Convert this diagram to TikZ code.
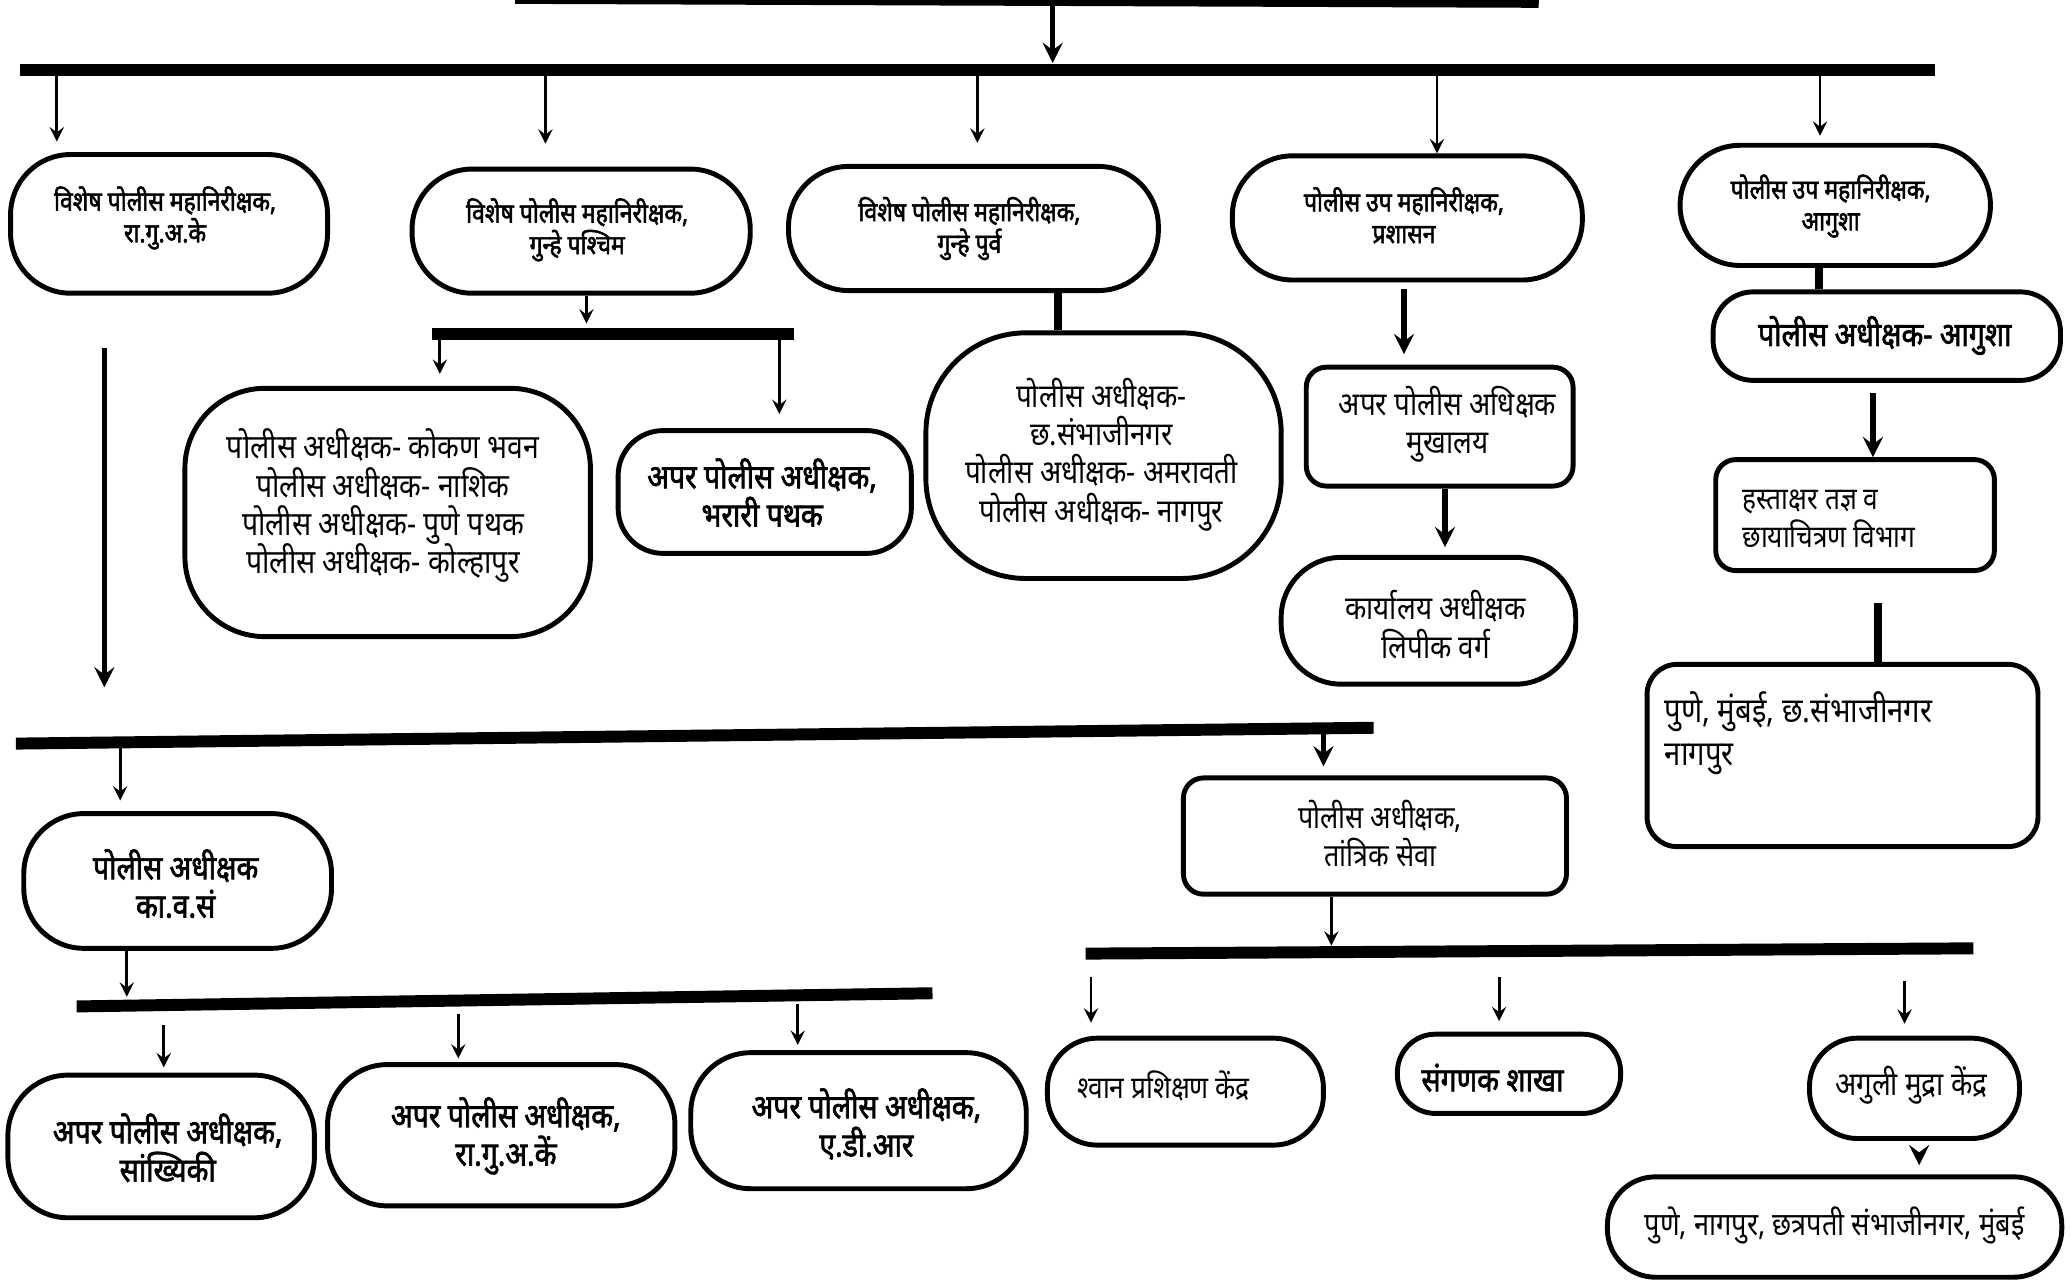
\documentclass[tikz,border=0pt]{standalone}
\usepackage{fontspec}
\newfontfamily\deva[Script=Devanagari,FakeStretch=0.85]{Noto Sans}
\newfontfamily\devab[Script=Devanagari,FakeStretch=0.85,FakeBold=2]{Noto Sans}
\usetikzlibrary{arrows,fit}
\tikzstyle{pill} = [rectangle, draw, line width=1.4pt, rounded corners=6mm, inner sep=0pt]
\tikzstyle{card} = [rectangle, draw, line width=1.4pt, rounded corners=2mm, inner sep=0pt]
\tikzstyle{head} = [align=center, font=\devab\fontsize{7.7}{9}\selectfont]
\tikzstyle{body} = [align=center, font=\deva\fontsize{9.3}{10.9}\selectfont]
\tikzstyle{bodyb} = [align=center, font=\devab\fontsize{9.5}{10.9}\selectfont]
\tikzstyle{bar} = [line width=3.4pt]
\tikzstyle{link} = [line width=2.2pt]
\tikzstyle{arrow} = [thick,->,>=stealth]
\tikzstyle{bigarrow} = [line width=1.5pt,->,>=stealth]

\begin{document}
\lineskiplimit=-20pt
\begin{tikzpicture}[x=0.13208mm, y=-0.13208mm]
            \useasboundingbox (0,0) rectangle (1568,969);

            \node (rgak)   [pill, fit={(8,117) (248,222)}] {};
            \node (gwest)  [pill, fit={(312,128) (568,222)}] {};
            \node (geast)  [pill, fit={(597,126) (877,220)}] {};
            \node (admin)  [pill, fit={(933,118) (1198,212)}] {};
            \node (agusha) [pill, fit={(1272,110) (1507,201)}] {};
            \node (rgak-t)   [head] at (125,165) {विशेष पोलीस महानिरीक्षक,\\रा.गु.अ.के};
            \node (gwest-t)  [head] at (437,174) {विशेष पोलीस महानिरीक्षक,\\गुन्हे पश्चिम};
            \node (geast-t)  [head] at (734,173) {विशेष पोलीस महानिरीक्षक,\\गुन्हे पुर्व};
            \node (admin-t)  [head] at (1063,163) {पोलीस उप महानिरीक्षक,\\प्रशासन};
            \node (agusha-t) [head] at (1386,156) {पोलीस उप महानिरीक्षक,\\आगुशा};

            \node (spwest)  [pill, rounded corners=8mm, fit={(140,294) (447,482)}] {};
            \node (bharari) [pill, rounded corners=4.5mm, fit={(468,326) (690,419)}] {};
            \node (speast)  [pill, rounded corners=10mm, fit={(701,252) (970,438)}] {};
            \node (hq)      [card, fit={(989,278) (1191,368)}] {};
            \node (office)  [pill, fit={(970,422) (1193,518)}] {};
            \node (spag)    [pill, rounded corners=4mm, fit={(1297,221) (1560,288)}] {};
            \node (hasta)   [card, fit={(1299,348) (1510,432)}] {};
            \node (hcity)   [card, rounded corners=3mm, fit={(1247,503) (1543,641)}] {};
            \node (spwest-t)  [body, font=\deva\fontsize{9.5}{10.9}\selectfont] at (290,383) {पोलीस अधीक्षक- कोकण भवन\\पोलीस अधीक्षक- नाशिक\\पोलीस अधीक्षक- पुणे पथक\\पोलीस अधीक्षक- कोल्हापुर};
            \node (bharari-t) [bodyb] at (577,373) {अपर पोलीस अधीक्षक,\\भरारी पथक};
            \node (speast-t)  [body] at (834,344) {पोलीस अधीक्षक-\\छ.संभाजीनगर\\पोलीस अधीक्षक- अमरावती\\पोलीस अधीक्षक- नागपुर};
            \node (hq-t)      [body] at (1096,321) {अपर पोलीस अधिक्षक\\मुखालय};
            \node (office-t)  [body] at (1087,473) {कार्यालय अधीक्षक\\लिपीक वर्ग};
            \node (spag-t)    [bodyb] at (1427,254) {पोलीस अधीक्षक- आगुशा};
            \node (hasta-t)   [body, align=left, anchor=west, font=\deva\fontsize{8.8}{10.9}\selectfont] at (1310,393) {हस्ताक्षर तज्ञ व\\छायाचित्रण विभाग};
            \node (hcity-t)   [body, align=left, anchor=west, font=\deva\fontsize{9.8}{12.4}\selectfont] at (1251,555) {पुणे, मुंबई, छ.संभाजीनगर\\नागपुर};

            \node (kvs)     [pill, fit={(18,616) (251,718)}] {};
            \node (tantrik) [card, fit={(896,589) (1186,677)}] {};
            \node (stats)   [pill, fit={(6,814) (238,922)}] {};
            \node (rgakc)   [pill, fit={(248,806) (511,913)}] {};
            \node (adr)     [pill, fit={(523,797) (777,900)}] {};
            \node (dog)     [pill, rounded corners=5mm, fit={(793,786) (1002,867)}] {};
            \node (comp)    [pill, rounded corners=3.8mm, fit={(1058,783) (1227,843)}] {};
            \node (finger)  [pill, rounded corners=4.8mm, fit={(1370,786) (1529,862)}] {};
            \node (fcity)   [pill, rounded corners=4.8mm, fit={(1217,891) (1561,967)}] {};
            \node (kvs-t)     [bodyb] at (133,669) {पोलीस अधीक्षक\\का.व.सं};
            \node (tantrik-t) [body, font=\deva\fontsize{9}{10.9}\selectfont] at (1045,631) {पोलीस अधीक्षक,\\तांत्रिक सेवा};
            \node (stats-t)   [bodyb] at (127,869) {अपर पोलीस अधीक्षक,\\सांख्यिकी};
            \node (rgakc-t)   [bodyb] at (383,860) {अपर पोलीस अधीक्षक,\\रा.गु.अ.कें};
            \node (adr-t)     [bodyb] at (656,851) {अपर पोलीस अधीक्षक,\\ए.डी.आर};
            \node (dog-t)     [body, font=\deva\fontsize{8.8}{10.9}\selectfont] at (881,822) {श्वान प्रशिक्षण केंद्र};
            \node (comp-t)    [bodyb] at (1130,816) {संगणक शाखा};
            \node (finger-t)  [body] at (1447,822) {अगुली मुद्रा केंद्र};
            \node (fcity-t)   [body, font=\deva\fontsize{9.1}{10.9}\selectfont] at (1389,928) {पुणे, नागपुर, छत्रपती संभाजीनगर, मुंबई};

            \coordinate (chief) at (797,2);
            \coordinate (bar1l) at (15,53);
            \coordinate (bar1r) at (1465,53);
            \coordinate (bar2l) at (12,563);
            \coordinate (bar2r) at (1040,551);

            \draw [link] (390,0) -- (1165,3);
            \draw [bigarrow, shorten >=2pt] (chief) -- (chief |- bar1l);
            \draw [bar] (bar1l) -- (bar1r);
            \foreach \x/\n/\g in {43/rgak/3, 413/gwest/6.5, 740/geast/6, 1088/admin/0, 1378/agusha/2}
                \draw [arrow, shorten <=1.5pt, shorten >=\g pt] (\x,53) -- (\x,0 |- \n.north);

            \draw [arrow, shorten >=1.5pt] (gwest.south -| 444,0) -- (444,249);
            \draw [bar] (327,253) -- (601,253);
            \draw [arrow, shorten <=1.5pt, shorten >=3.4pt] (333,253) -- (333,0 |- spwest.north);
            \draw [arrow, shorten <=1.5pt, shorten >=4pt] (590,253) -- (590,0 |- bharari.north);

            \draw [link] (geast.south -| 801,0) -- (801,0 |- speast.north);
            \draw [bigarrow, shorten <=2pt, shorten >=3pt] (admin.south -| 1063,0) -- (1063,0 |- hq.north);
            \draw [bigarrow, shorten >=2.2pt] (hq.south -| 1094,0) -- (1094,0 |- office.north);
            \draw [link] (agusha.south -| 1377,0) -- (1377,0 |- spag.north);
            \draw [bigarrow, shorten <=3pt] (spag.south -| 1418,0) -- (1418,0 |- hasta.north);
            \draw [link, shorten <=8.6pt] (hasta.south -| 1422,0) -- (1422,0 |- hcity.north);

            \draw [bigarrow, shorten <=15pt, shorten >=16pt] (rgak.south -| 79,0) -- (79,0 |- bar2l);
            \draw [bar] (bar2l) -- (bar2r);
            \draw [arrow, shorten <=1.5pt, shorten >=3pt] (91,562) -- (91,0 |- kvs.north);
            \draw [bigarrow, shorten <=1.5pt, shorten >=2.6pt] (1002,552) -- (1002,0 |- tantrik.north);

            \draw [arrow, shorten >=2pt] (kvs.south -| 96,0) -- (96,760);
            \draw [bar] (58,762) -- (706,752);
            \draw [arrow, shorten >=1.5pt] (124,776) -- (124,0 |- stats.north);
            \draw [arrow, shorten >=1pt] (347,768) -- (347,0 |- rgakc.north);
            \draw [arrow, shorten >=1.5pt] (604,760) -- (604,0 |- adr.north);

            \draw [arrow, shorten >=1.5pt] (tantrik.south -| 1008,0) -- (1008,720);
            \draw [bar] (822,722) -- (1494,718);
            \draw [arrow, shorten >=3.7pt] (826,740) -- (826,0 |- dog.north);
            \draw [arrow, shorten >=3pt] (1135,740) -- (1135,0 |- comp.north);
            \draw [arrow, shorten >=3.4pt] (1442,743) -- (1442,0 |- finger.north);
            \draw [bigarrow, shorten <=3.7pt, shorten >=2.6pt] (finger.south -| 1453,0) -- (1453,0 |- fcity.north);
        \end{tikzpicture}
\end{document}
